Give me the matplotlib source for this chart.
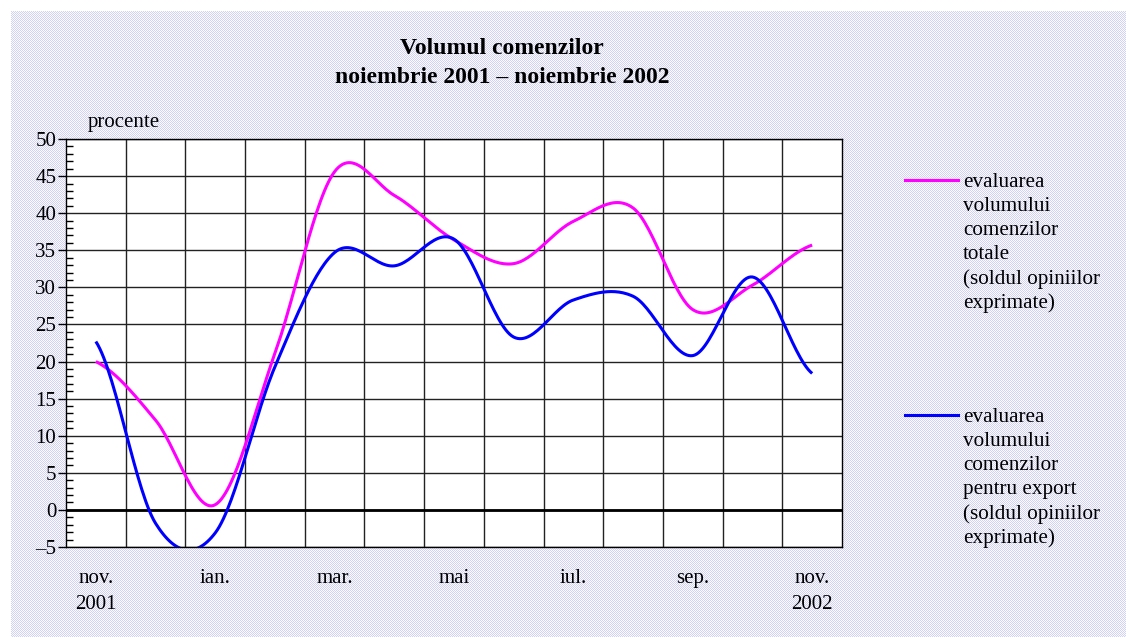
import numpy as np
import matplotlib
matplotlib.use("Agg")
import matplotlib.pyplot as plt
from matplotlib.lines import Line2D

plt.rcParams['font.family'] = ['Liberation Serif', 'DejaVu Serif']

# date lunare, noiembrie 2001 - noiembrie 2002 (procente)
luni = ['nov.\n2001', 'dec.', 'ian.', 'feb.', 'mar.', 'apr.', 'mai',
        'iun.', 'iul.', 'aug.', 'sep.', 'oct.', 'nov.\n2002']
comenzi_totale = [20.0, 12.1, 0.7, 21.1, 45.6, 42.4, 36.4, 33.2, 38.9, 40.7, 27.0, 30.3, 35.7]
comenzi_export = [22.7, -1.8, -3.1, 19.3, 34.7, 32.9, 36.5, 23.3, 28.3, 28.8, 20.8, 31.4, 18.4]

eticheta_totale = "evaluarea\nvolumului\ncomenzilor\ntotale\n(soldul opiniilor\nexprimate)"
eticheta_export = "evaluarea\nvolumului\ncomenzilor\npentru export\n(soldul opiniilor\nexprimate)"


def netezire(y, n=30):
    # curba neteda tip Catmull-Rom (ca in Excel)
    y = np.asarray(y, dtype=float)
    p = np.concatenate(([y[0]], y, [y[-1]]))
    xs, ys = [], []
    t = np.linspace(0, 1, n, endpoint=False)
    for i in range(len(y) - 1):
        p0, p1, p2, p3 = p[i], p[i + 1], p[i + 2], p[i + 3]
        m1 = (p2 - p0) / 2
        m2 = (p3 - p1) / 2
        h = ((2 * t**3 - 3 * t**2 + 1) * p1 + (t**3 - 2 * t**2 + t) * m1
             + (-2 * t**3 + 3 * t**2) * p2 + (t**3 - t**2) * m2)
        xs.append(i + t)
        ys.append(h)
    xs.append([len(y) - 1])
    ys.append([y[-1]])
    return np.concatenate(xs), np.concatenate(ys)


W, H = 1126, 637
fig = plt.figure(figsize=(W / 100, H / 100), dpi=100)

# fundal punctat
fundal = np.ones((H, W, 3))
rr, cc = np.mgrid[0:H, 0:W]
zona = (rr >= 11) & (cc >= 11)
masca = ((rr + cc) % 2 == 0) & zona
fundal[masca] = [0.82, 0.82, 0.96]
fundal[zona & ~masca] = [0.99, 0.99, 1.0]
fig.figimage(fundal, 0, 0, origin='upper', zorder=-5)

ax = fig.add_axes([66 / W, 1 - 547 / H, (842 - 66) / W, (547 - 139) / H])
ax.set_facecolor('white')

x = np.arange(len(luni))
xs, ys = netezire(comenzi_totale)
ax.plot(xs, ys, color='#FF00FF', lw=2.2, zorder=3, solid_capstyle='butt')
xs, ys = netezire(comenzi_export)
ax.plot(xs, ys, color='#0000FF', lw=2.2, zorder=4, solid_capstyle='butt')

ax.set_xlim(-0.5, len(luni) - 0.5)
ax.set_ylim(-5, 50)
ax.set_yticks(np.arange(-5, 51, 5))
ax.set_yticklabels(['\u20135' if v < 0 else str(v) for v in range(-5, 51, 5)])
ax.set_yticks(np.arange(-5, 51, 1), minor=True)
ax.set_xticks(x[::2])
ax.set_xticklabels(luni[::2])
ax.set_xticks(np.arange(0.5, len(luni) - 1, 1), minor=True)

ax.grid(which='major', axis='y', color='#222222', lw=1)
ax.grid(which='minor', axis='x', color='#222222', lw=1)
ax.axhline(0, color='black', lw=2, zorder=2)
ax.tick_params(axis='y', which='major', direction='out', length=6, width=1,
               labelsize=15, pad=1)
ax.tick_params(axis='y', which='minor', direction='in', length=5, width=1)
ax.tick_params(axis='x', which='both', length=0, labelsize=15, pad=16)
for lbl in ax.get_xticklabels():
    lbl.set_linespacing(1.5)
for s in ax.spines.values():
    s.set_color('black')
    s.set_linewidth(1)

fig.text(502 / W, 1 - 63 / H, "Volumul comenzilor\nnoiembrie 2001 \u2013 noiembrie 2002",
         ha='center', va='center', fontsize=17, fontweight='bold', linespacing=1.5)
fig.text(88 / W, 1 - 123 / H, "procente", ha='left', va='center', fontsize=15)

# legenda
for y_px, culoare, text in [(180, '#FF00FF', eticheta_totale),
                             (415, '#0000FF', eticheta_export)]:
    fig.add_artist(Line2D([905 / W, 958 / W], [1 - y_px / H, 1 - y_px / H],
                          color=culoare, lw=2.2, transform=fig.transFigure))
    fig.text(963 / W, 1 - (y_px - 7) / H, text, ha='left', va='top',
             fontsize=15.2, linespacing=1.35)

fig.savefig('out.png', dpi=100)
